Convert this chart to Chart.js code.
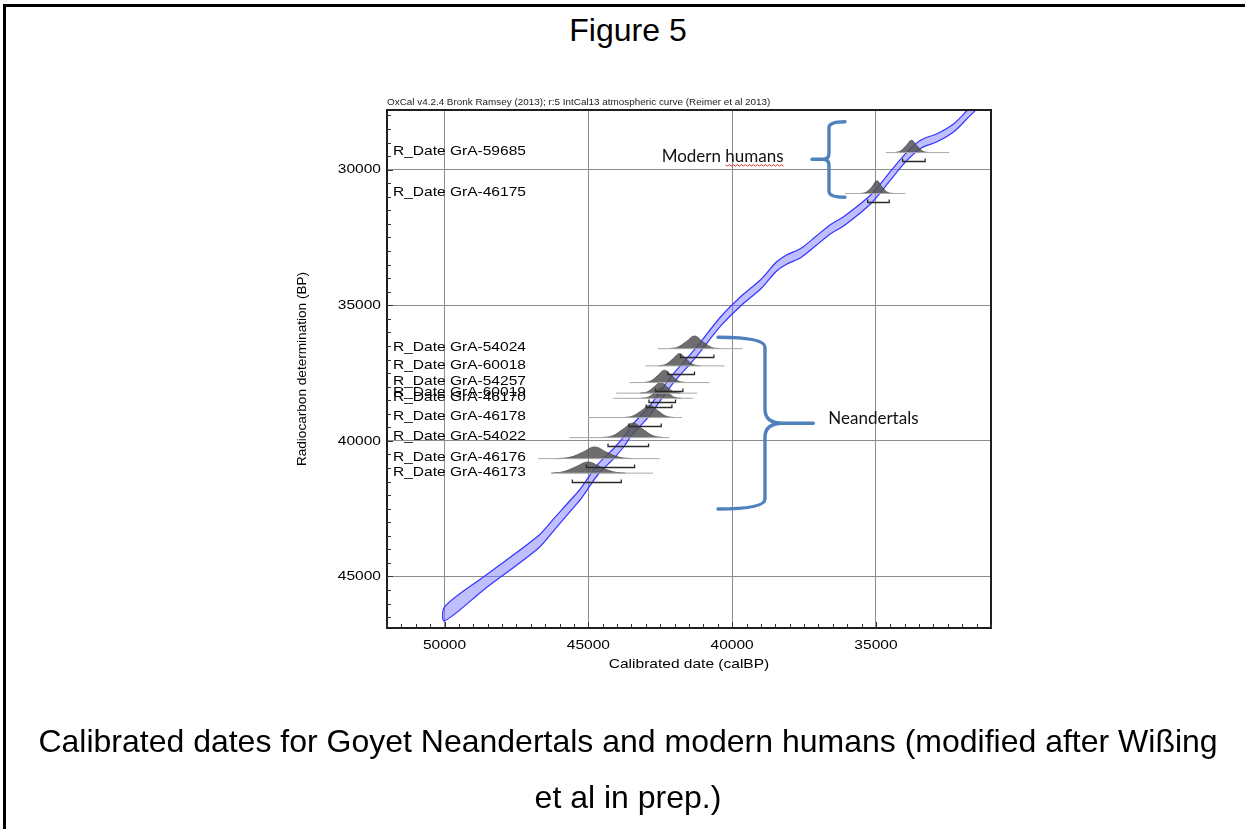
<!DOCTYPE html>
<html>
<head>
<meta charset="utf-8">
<title>Figure 5</title>
<script src="https://cdn.jsdelivr.net/npm/chart.js@4/dist/chart.umd.min.js"></script>
<style>
  html, body { margin: 0; padding: 0; background: #fff; }
  body { width: 1245px; height: 829px; position: relative; overflow: hidden;
         font-family: "Liberation Sans", Arial, sans-serif; }
  #frame { position: absolute; left: 3px; top: 4px; right: -10px; bottom: -10px;
           border-top: 3px solid #000; border-left: 3px solid #000; }
  .line { position: absolute; left: 0; width: 1256px; text-align: center; font-size: 32px;
          line-height: 36px; white-space: nowrap; color: #000; }
  canvas { position: absolute; left: 0; top: 0; }
</style>
</head>
<body>
<div id="frame"></div>
<div class="line" style="top:12px">Figure 5</div>
<canvas id="chart" width="1245" height="829"></canvas>
<div class="line" style="top:723px">Calibrated dates for Goyet Neandertals and modern humans (modified after Wißing</div>
<div class="line" style="top:779px">et al in prep.)</div>

<script>
// ---- IntCal13 atmospheric curve (calBP, 14C BP, 1-sigma) ----
const curveCal = [31400, 31816, 32281, 32858, 33438, 33962, 34545, 35174, 36101, 36563, 37083, 37604, 38125, 38472, 38993, 39687, 40382, 41309, 42118, 42872, 43507, 43740, 44087, 44663, 45243, 45476, 46170, 46747, 48600, 50000];
const curveBP  = [27480, 27950, 28445, 28814, 29058, 29552, 30289, 31086, 31887, 32182, 32624, 33067, 33325, 33583, 34210, 34838, 35575, 36804, 37789, 38895, 39633, 40000, 40430, 41050, 41920, 42215, 43050, 43740, 45220, 46380];
const curveErr = [150, 150, 150, 150, 150, 150, 160, 160, 170, 170, 170, 170, 170, 170, 170, 170, 170, 170, 170, 175, 180, 180, 185, 190, 200, 200, 220, 230, 240, 260];

// ---- Radiocarbon determinations ----
const dateLabels = ['R_Date GrA-59685', 'R_Date GrA-46175', 'R_Date GrA-54024', 'R_Date GrA-60018',
                    'R_Date GrA-54257', 'R_Date GrA-60019', 'R_Date GrA-46170', 'R_Date GrA-46178',
                    'R_Date GrA-54022', 'R_Date GrA-46176', 'R_Date GrA-46173'];
const dateBP = [29370, 30880, 36600, 37235, 37850, 38240, 38430, 39140, 39880, 40655, 41190];

// 95.4% calibrated ranges (older end, younger end), calBP
const rangeOld   = [34073, 35288, 41795, 42233, 42663, 42892, 42986, 43587, 44316, 45069, 45556];
const rangeYoung = [33288, 34538, 40635, 41309, 41712, 41969, 42094, 42465, 42906, 43392, 43854];

// extent of each plotted distribution, calBP
const spanOld   = [34653, 36076, 42580, 43021, 43566, 44028, 44142, 45010, 45649, 46747, 46052];
const spanYoung = [32455, 33983, 39628, 40267, 40788, 41215, 41365, 41747, 42177, 42524, 42753];

// calibrated probability profiles (calBP, relative probability)
const distCal = [
  [34350, 34150, 33950, 33760, 33580, 33380, 33180],
  [35550, 35350, 35150, 34965, 34780, 34600, 34400],
  [42200, 41900, 41600, 41309, 41020, 40730, 40450],
  [42550, 42300, 42060, 41830, 41600, 41370, 41120],
  [43080, 42830, 42590, 42351, 42110, 41870, 41620],
  [43200, 42950, 42720, 42490, 42260, 42030, 41790],
  [43150, 42910, 42690, 42465, 42240, 42020, 41780],
  [43750, 43450, 43150, 42872, 42590, 42310, 42020],
  [44550, 44150, 43800, 43448, 43100, 42750, 42350],
  [46100, 45620, 45200, 44781, 44360, 43940, 43450],
  [46300, 45860, 45435, 45010, 44585, 44160, 43700]
];
const distProb = [
  [0, 0.12, 0.55, 0.97, 0.55, 0.12, 0],
  [0, 0.10, 0.50, 1.00, 0.50, 0.10, 0],
  [0, 0.12, 0.55, 1.00, 0.55, 0.12, 0],
  [0, 0.13, 0.55, 0.97, 0.55, 0.13, 0],
  [0, 0.13, 0.55, 0.97, 0.55, 0.13, 0],
  [0, 0.10, 0.48, 0.85, 0.48, 0.10, 0],
  [0, 0.10, 0.48, 0.85, 0.48, 0.10, 0],
  [0, 0.13, 0.55, 0.97, 0.55, 0.13, 0],
  [0, 0.15, 0.65, 1.15, 0.65, 0.15, 0],
  [0, 0.12, 0.50, 0.92, 0.50, 0.12, 0],
  [0, 0.12, 0.50, 0.88, 0.50, 0.12, 0]
];

// ---- Axes ----
const xRange = [31000, 52000];
const yRange = [27800, 46900];
const xMajorTicks = [50000, 45000, 40000, 35000];
const yMajorTicks = [30000, 35000, 40000, 45000];
const minorStep = 500;
const xTitle = 'Calibrated date (calBP)';
const yTitle = 'Radiocarbon determination (BP)';
const plotHeader = 'OxCal v4.2.4 Bronk Ramsey (2013); r:5 IntCal13 atmospheric curve (Reimer et al 2013)';

// ---- Group annotations (calBP / BP anchors) ----
const groupNames = ['Modern humans', 'Neandertals'];
const groupTextCal = [42450, 36657];
const groupTextBP = [29500, 39170];
const braceEndCal = [36076, 40492];
const braceSpineCal = [36633, 38858];
const braceTipCal = [37224, 37178];
const braceTopBP = [28231, 36181];
const braceBottomBP = [31019, 42512];
const braceTipBP = [29618, 39352];

// ---- Styling ----
const distHeight = 470;          // BP-years drawn per unit of relative probability
const hStretch = 1.15;           // OxCal lettering is slightly widened
const axisFont = '13.5px "Liberation Sans", Arial, sans-serif';
const headerFont = '8.6px "Liberation Sans", Arial, sans-serif';
const braceColor = '#4f81bd';

function wideText(ctx, text, x, y, align, font, color) {
  ctx.save();
  ctx.font = font;
  ctx.fillStyle = color;
  ctx.textBaseline = 'middle';
  ctx.textAlign = 'left';
  const w = ctx.measureText(text).width * hStretch;
  const x0 = align === 'right' ? x - w : align === 'center' ? x - w / 2 : x;
  ctx.translate(x0, y);
  ctx.scale(hStretch, 1);
  ctx.fillText(text, 0, 0);
  ctx.restore();
}

// ---- Datasets ----
const datasets = [];
dateBP.forEach((bp, i) => {
  datasets.push({
    data: [{ x: spanOld[i], y: bp }, { x: spanYoung[i], y: bp }],
    borderColor: '#a8a8a8', borderWidth: 1, fill: false, tension: 0
  });
});
dateBP.forEach((bp, i) => {
  datasets.push({
    data: distCal[i].map((c, k) => ({ x: c, y: bp - distProb[i][k] * distHeight })),
    borderColor: 'rgba(60,60,60,0.9)', borderWidth: 0.7,
    backgroundColor: 'rgba(85,85,85,0.85)',
    fill: { value: bp }, tension: 0.4
  });
});
const upperEdge = curveCal.map((c, i) => ({ x: c, y: curveBP[i] - curveErr[i] }));
const lowerEdge = curveCal.map((c, i) => ({ x: c, y: curveBP[i] + curveErr[i] })).reverse();
datasets.push({
  data: [...upperEdge, ...lowerEdge, upperEdge[0]],
  borderColor: '#3434ff', borderWidth: 1.2,
  backgroundColor: 'rgba(112,112,255,0.45)',
  fill: 'shape', tension: 0.3
});

// ---- Drawing helpers for frame, ticks, labels, braces ----
const oxcalDecor = {
  id: 'oxcalDecor',
  afterDatasetsDraw(chart) {
    const { ctx, chartArea: a, scales: { x, y } } = chart;
    // 95.4% range bars
    ctx.save();
    ctx.strokeStyle = '#2a2a2a';
    ctx.lineWidth = 1.3;
    dateBP.forEach((bp, i) => {
      const yy = Math.round(y.getPixelForValue(bp) + 8.5) + 0.5;
      const x1 = x.getPixelForValue(rangeOld[i]);
      const x2 = x.getPixelForValue(rangeYoung[i]);
      ctx.beginPath();
      ctx.moveTo(x1, yy - 3); ctx.lineTo(x1, yy); ctx.lineTo(x2, yy); ctx.lineTo(x2, yy - 3);
      ctx.stroke();
    });
    ctx.restore();
    // sample names
    dateLabels.forEach((t, i) => {
      wideText(ctx, t, a.left + 6, y.getPixelForValue(dateBP[i]) - 1, 'left', axisFont, '#000');
    });
  },
  afterDraw(chart) {
    const { ctx, chartArea: a, scales: { x, y } } = chart;
    ctx.save();
    // plot frame
    ctx.strokeStyle = '#1e1e1e';
    ctx.lineWidth = 2;
    ctx.strokeRect(a.left, a.top, a.right - a.left, a.bottom - a.top);
    // minor ticks, pointing inwards
    ctx.lineWidth = 1;
    ctx.strokeStyle = '#333';
    ctx.beginPath();
    for (let v = Math.ceil(xRange[0] / minorStep) * minorStep; v <= xRange[1]; v += minorStep) {
      const px = Math.round(x.getPixelForValue(v)) + 0.5;
      ctx.moveTo(px, a.bottom); ctx.lineTo(px, a.bottom - (v % 5000 === 0 ? 6 : 4));
    }
    for (let v = Math.ceil(yRange[0] / minorStep) * minorStep; v <= yRange[1]; v += minorStep) {
      const py = Math.round(y.getPixelForValue(v)) + 0.5;
      ctx.moveTo(a.left, py); ctx.lineTo(a.left + (v % 5000 === 0 ? 6 : 4), py);
    }
    ctx.stroke();
    ctx.restore();

    // tick labels and titles
    xMajorTicks.forEach(v => wideText(ctx, String(v), x.getPixelForValue(v), a.bottom + 17, 'center', axisFont, '#000'));
    yMajorTicks.forEach(v => wideText(ctx, String(v), a.left - 6, y.getPixelForValue(v), 'right', axisFont, '#000'));
    wideText(ctx, xTitle, (a.left + a.right) / 2, a.bottom + 36.5, 'center', axisFont, '#000');
    wideText(ctx, plotHeader, a.left, a.top - 7, 'left', headerFont, '#222');
    ctx.save();
    ctx.translate(a.left - 85, (a.top + a.bottom) / 2);
    ctx.rotate(-Math.PI / 2);
    ctx.font = '13.6px "Liberation Sans", Arial, sans-serif';
    ctx.fillStyle = '#000';
    ctx.textAlign = 'center';
    ctx.textBaseline = 'middle';
    ctx.fillText(yTitle, 0, 0);
    ctx.restore();

    // group braces
    ctx.save();
    ctx.strokeStyle = braceColor;
    ctx.lineWidth = 3.4;
    ctx.lineCap = 'round';
    ctx.lineJoin = 'round';
    groupNames.forEach((name, i) => {
      const xe = x.getPixelForValue(braceEndCal[i]);
      const xs = x.getPixelForValue(braceSpineCal[i]);
      const xt = x.getPixelForValue(braceTipCal[i]);
      const yt = y.getPixelForValue(braceTopBP[i]);
      const yb = y.getPixelForValue(braceBottomBP[i]);
      const ym = y.getPixelForValue(braceTipBP[i]);
      const dir = Math.sign(xt - xs);
      const r = i === 0 ? 6 : 10;
      const rt = i === 0 ? 6 : 14;
      const lead = i === 0 ? 6 : 18;
      ctx.beginPath();
      ctx.moveTo(xe, yt);
      ctx.quadraticCurveTo(xs, yt, xs, yt + r);
      ctx.lineTo(xs, ym - rt);
      ctx.quadraticCurveTo(xs, ym, xs + dir * lead, ym);
      ctx.lineTo(xt, ym);
      ctx.moveTo(xs + dir * lead, ym);
      ctx.quadraticCurveTo(xs, ym, xs, ym + rt);
      ctx.lineTo(xs, yb - r);
      ctx.quadraticCurveTo(xs, yb, xe, yb);
      ctx.stroke();
    });
    ctx.restore();

    // group names
    ctx.save();
    ctx.font = '17px Lato, "Open Sans", sans-serif';
    ctx.fillStyle = '#111';
    ctx.textBaseline = 'middle';
    ctx.textAlign = 'left';
    groupNames.forEach((name, i) => {
      ctx.fillText(name, x.getPixelForValue(groupTextCal[i]), y.getPixelForValue(groupTextBP[i]));
    });
    // spell-check squiggle under the second word of the first name
    const x0 = x.getPixelForValue(groupTextCal[0]) + ctx.measureText('Modern ').width;
    const x1 = x.getPixelForValue(groupTextCal[0]) + ctx.measureText(groupNames[0]).width;
    const ys = y.getPixelForValue(groupTextBP[0]) + 8.5;
    ctx.strokeStyle = '#e02020';
    ctx.lineWidth = 0.9;
    ctx.beginPath();
    let up = false;
    ctx.moveTo(x0, ys);
    for (let px = x0 + 2; px <= x1; px += 2) { ctx.lineTo(px, up ? ys : ys + 1.5); up = !up; }
    ctx.stroke();
    ctx.restore();
  }
};

new Chart(document.getElementById('chart'), {
  type: 'line',
  data: { datasets },
  options: {
    responsive: false,
    animation: false,
    devicePixelRatio: 1,
    layout: { padding: { left: 367, right: 254, top: 110, bottom: 181 } },
    elements: { point: { radius: 0 } },
    plugins: { legend: { display: false }, tooltip: { enabled: false } },
    scales: {
      x: {
        type: 'linear', reverse: true, min: xRange[0], max: xRange[1],
        afterBuildTicks: s => { s.ticks = xMajorTicks.map(v => ({ value: v })); },
        afterFit: s => { s.height = 20; },
        ticks: { display: false },
        grid: { color: '#8c8c8c', lineWidth: 1, drawTicks: false },
        border: { display: false }
      },
      y: {
        type: 'linear', reverse: true, min: yRange[0], max: yRange[1],
        afterBuildTicks: s => { s.ticks = yMajorTicks.map(v => ({ value: v })); },
        afterFit: s => { s.width = 20; },
        ticks: { display: false },
        grid: { color: '#8c8c8c', lineWidth: 1, drawTicks: false },
        border: { display: false }
      }
    }
  },
  plugins: [oxcalDecor]
});
</script>
</body>
</html>
